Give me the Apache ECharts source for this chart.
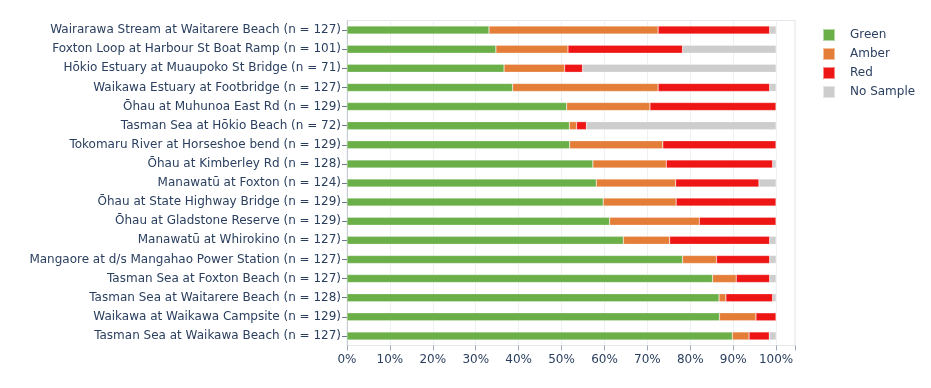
<!DOCTYPE html>
<html><head><meta charset="utf-8">
<script src="https://cdn.jsdelivr.net/npm/echarts@6/dist/echarts.min.js"></script>
<style>html,body{margin:0;padding:0;background:#fff}#c{width:931px;height:388px}</style>
</head><body><div id="c"></div>
<script>
const categories = [
  "Wairarawa Stream at Waitarere Beach (n = 127)",
  "Foxton Loop at Harbour St Boat Ramp (n = 101)",
  "Hōkio Estuary at Muaupoko St Bridge (n = 71)",
  "Waikawa Estuary at Footbridge (n = 127)",
  "Ōhau at Muhunoa East Rd (n = 129)",
  "Tasman Sea at Hōkio Beach (n = 72)",
  "Tokomaru River at Horseshoe bend (n = 129)",
  "Ōhau at Kimberley Rd (n = 128)",
  "Manawatū at Foxton (n = 124)",
  "Ōhau at State Highway Bridge (n = 129)",
  "Ōhau at Gladstone Reserve (n = 129)",
  "Manawatū at Whirokino (n = 127)",
  "Mangaore at d/s Mangahao Power Station (n = 127)",
  "Tasman Sea at Foxton Beach (n = 127)",
  "Tasman Sea at Waitarere Beach (n = 128)",
  "Waikawa at Waikawa Campsite (n = 129)",
  "Tasman Sea at Waikawa Beach (n = 127)"
];
const green    = [33.1, 34.7, 36.6, 38.6, 51.2, 51.8, 51.9, 57.3, 58.1, 59.7, 61.2, 64.4, 78.2, 85.2, 86.7, 86.8, 89.8];
const amber    = [39.4, 16.8, 14.1, 33.9, 19.4,  1.7, 21.7, 17.1, 18.5, 17.0, 20.9, 10.8,  7.9,  5.5,  1.6,  8.5,  3.9];
const red      = [26.0, 26.7,  4.2, 26.0, 29.4,  2.3, 26.4, 24.8, 19.4, 23.3, 17.9, 23.3, 12.4,  7.8, 10.9,  4.7,  4.7];
const noSample = [ 1.5, 21.8, 45.1,  1.5,  0.0, 44.2,  0.0,  0.8,  4.0,  0.0,  0.0,  1.5,  1.5,  1.5,  0.8,  0.0,  1.6];
const xTicks = [0, 10, 20, 30, 40, 50, 60, 70, 80, 90, 100];

const seriesDefs = [
  ["Green", green, "#6AAF48"],
  ["Amber", amber, "#E47D37"],
  ["Red", red, "#EE1515"],
  ["No Sample", noSample, "#CDCDCD"]
];
const textColor = "#2a3f5f";
const chart = echarts.init(document.getElementById('c'), null, {renderer: 'canvas'});
chart.setOption({
  animation: false,
  backgroundColor: '#fff',
  textStyle: {fontFamily: 'DejaVu Sans'},
  grid: {left: 347, right: 136, top: 20.5, bottom: 42.5, show: true, borderColor: '#e3e6ea', borderWidth: 1, containLabel: false},
  legend: {
    orient: 'vertical', left: 817, top: 23, itemWidth: 12, itemHeight: 12, itemGap: 5,
    icon: 'rect',
    textStyle: {color: textColor, fontSize: 12, fontFamily: 'DejaVu Sans', padding: [0, 0, 0, 10]},
    data: seriesDefs.map(s => s[0])
  },
  xAxis: {
    type: 'value', min: 0, max: 104.4, interval: 10,
    axisLine: {show: false},
    axisTick: {show: true, length: 5, lineStyle: {color: '#a0a8b4'}},
    axisLabel: {color: textColor, fontSize: 12, margin: 8,
      formatter: v => xTicks.indexOf(Math.round(v)) >= 0 && Math.abs(v - Math.round(v)) < 1e-6 ? Math.round(v) + '%' : ''},
    splitLine: {show: true, lineStyle: {color: '#eef0f3', width: 1}}
  },
  yAxis: {
    type: 'category', data: categories, inverse: true,
    axisLine: {show: true, lineStyle: {color: '#c8cdd4'}},
    axisTick: {show: true, length: 5, alignWithLabel: true, lineStyle: {color: '#6b7a90'}},
    axisLabel: {color: textColor, fontSize: 12, margin: 6},
    splitLine: {show: false}
  },
  series: seriesDefs.map(([name, data, color]) => ({
    name, type: 'bar', stack: 'total', data, barWidth: 8,
    itemStyle: {color, borderColor: 'rgba(255,255,255,0.5)', borderWidth: 0.5},
    emphasis: {disabled: true}
  }))
});
</script></body></html>
